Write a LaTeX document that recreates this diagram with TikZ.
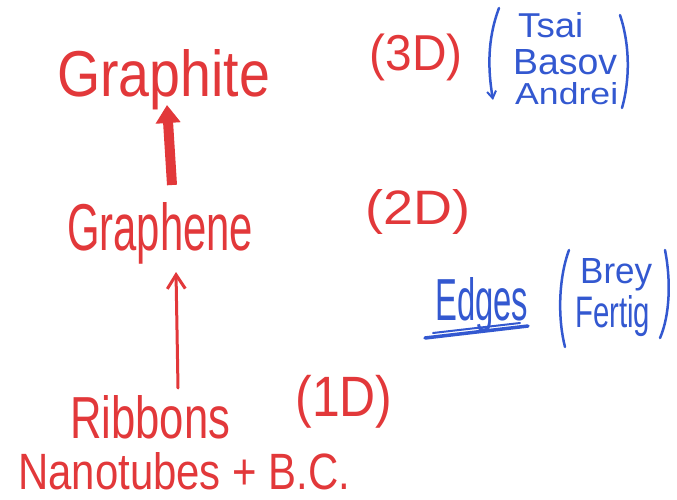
\documentclass[tikz,border=0pt]{standalone}
\usepackage{fontspec}
\setmainfont{Liberation Sans}
\usetikzlibrary{arrows.meta}
\definecolor{hred}{HTML}{E2383A}
\definecolor{hblue}{HTML}{3358D0}
\newcommand{\hwbox}[3]{\resizebox{#1}{#2}{#3}}
\newcommand{\hwtot}[3]{\resizebox*{#1}{#2}{#3}}
\tikzset{
  redword/.style={text=hred, inner sep=0pt, anchor=base west, font=\fontsize{40}{48}\selectfont},
  blueword/.style={text=hblue, inner sep=0pt, anchor=base west, font=\fontsize{40}{48}\selectfont},
  redparen/.style={text=hred, inner sep=0pt, anchor=center, font=\fontsize{40}{48}\selectfont},
  bigarrow/.style={draw=hred, line width=10pt, -{Triangle[width=24pt,length=18pt]}},
  thinarrow/.style={draw=hred, line width=3pt, line cap=round, -{Straight Barb[width=18pt,length=14pt,line width=3pt]}},
  bluestroke/.style={draw=hblue, line width=2.5pt, line cap=round},
}
\begin{document}
\begin{tikzpicture}[x=1pt,y=-1pt]
\useasboundingbox (0,0) rectangle (677,500);
% red words
\node[redword] (graphite) at (57,97) {\hwbox{213pt}{47pt}{Graphite}};
\node[redword] (graphene) at (67,250) {\hwbox{186pt}{48pt}{Graphene}};
\node[redword] (ribbons) at (70,438) {\hwbox{160pt}{43pt}{Ribbons}};
\node[redword] (nano) at (18,489) {\hwbox{332pt}{37pt}{Nanotubes + B.C.}};
\node[redparen] (d3) at (416,57) {\hwtot{93pt}{47pt}{(3D)}};
\node[redparen] (d2) at (418,212) {\hwtot{105pt}{45pt}{(2D)}};
\node[redparen] (d1) at (344,402) {\hwtot{97pt}{53pt}{(1D)}};
% arrows
\coordinate (a1s) at (172,185);
\coordinate (a1e) at (167,105);
\coordinate (a2s) at (178,388);
\coordinate (a2e) at (176,272);
\draw[bigarrow] (a1s) -- (a1e);
\draw[thinarrow] (a2s) -- (a2e);
% blue names
\node[blueword] (tsai) at (518,38) {\hwbox{65pt}{25pt}{Tsai}};
\node[blueword] (basov) at (513,75) {\hwbox{104pt}{25pt}{Basov}};
\node[blueword] (andrei) at (515,105) {\hwbox{103pt}{22pt}{Andrei}};
\draw[bluestroke, -{Straight Barb[width=9pt,length=7pt,line width=2pt]}] (499,8) .. controls (487,40) and (488,70) .. (493,100);
\draw[bluestroke] (620,15) .. controls (630,45) and (630,80) .. (622,108);
\node[blueword] (edges) at (435,320) {\hwbox{93pt}{43pt}{Edges}};
\draw[bluestroke, line width=3.5pt] (425,338) -- (528,326);
\draw[bluestroke, line width=2pt] (433,333) -- (520,323);
\node[blueword] (brey) at (580,283) {\hwbox{72pt}{25pt}{Brey}};
\node[blueword] (fertig) at (575,327) {\hwbox{75pt}{32pt}{Fertig}};
\draw[bluestroke] (569,250) .. controls (558,280) and (558,320) .. (565,347);
\draw[bluestroke] (665,250) .. controls (671,280) and (670,315) .. (660,338);
\end{tikzpicture}
\end{document}
